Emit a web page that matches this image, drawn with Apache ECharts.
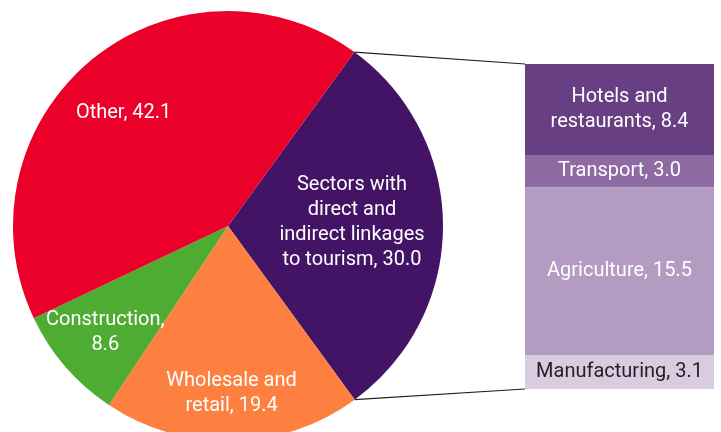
<!DOCTYPE html>
<html>
<head>
<meta charset="utf-8">
<script src="https://cdn.jsdelivr.net/npm/echarts@6/dist/echarts.min.js"></script>
<style>
html,body{margin:0;padding:0;background:#fff;}
#chart{width:721px;height:432px;}
</style>
</head>
<body>
<div id="chart"></div>
<script>
// ---- Data ----
var pieNames = ['Sectors with\ndirect and\nindirect linkages\nto tourism', 'Wholesale and\nretail', 'Construction', 'Other'];
var pieSeps = [', ', ', ', ',\n', ', '];
var pieValues = [30.0, 19.4, 8.6, 42.1];
var barNames = ['Hotels and\nrestaurants', 'Transport', 'Agriculture', 'Manufacturing'];
var barValues = [8.4, 3.0, 15.5, 3.1];

// ---- Style ----
var pieColors = ['#431366', '#FE8041', '#4EAC32', '#EA0029'];
var barColors = ['#693F84', '#8F6BA4', '#B39BC1', '#DACCE0'];
var barTextColors = ['#ffffff', '#ffffff', '#ffffff', '#231F20'];
var labelRadiusFrac = [0.577, 0.78, 0.755, 0.716];
var labelAngleShift = [-1.5, 0, 0, -3];
var FONT = 'Roboto, "Liberation Sans", Arial, sans-serif';
var FS = 20, LH = 25;
var CX = 228, CY = 226, R = 215, START = 54;

var total = pieValues.reduce(function(a, b){ return a + b; }, 0);
function midAngle(i) { // clockwise from 12 o'clock, degrees
  var before = 0;
  for (var k = 0; k < i; k++) before += pieValues[k];
  return (90 - START) + (before + pieValues[i] / 2) / total * 360;
}

var chart = echarts.init(document.getElementById('chart'), null, {renderer: 'canvas'});
var barSum = barValues.reduce(function(a, b){ return a + b; }, 0);

var option = {
  animation: false,
  backgroundColor: '#ffffff',
  textStyle: {fontFamily: FONT},
  grid: {left: 525, top: 64, width: 189, height: 325},
  xAxis: {type: 'category', data: ['tourism'], show: false},
  yAxis: {type: 'value', min: 0, max: barSum, inverse: true, show: false},
  series: [
    {
      type: 'pie',
      center: [CX, CY],
      radius: R,
      startAngle: START,
      clockwise: true,
      silent: true,
      itemStyle: {borderWidth: 0},
      label: {show: false},
      labelLine: {show: false},
      data: pieValues.map(function(v, i) {
        return {name: pieNames[i], value: v, itemStyle: {color: pieColors[i]}};
      })
    }
  ].concat(barValues.map(function(v, i) {
    return {
      type: 'bar',
      name: barNames[i],
      stack: 'total',
      barWidth: '100%',
      silent: true,
      itemStyle: {color: barColors[i]},
      label: {
        show: true,
        position: 'inside',
        fontFamily: FONT,
        fontSize: FS,
        lineHeight: LH,
        color: barTextColors[i],
        formatter: function(p) { return barNames[i] + ', ' + p.value.toFixed(1); }
      },
      data: [v]
    };
  }))
};
chart.setOption(option);

// pie labels placed along each slice's mid-angle
var graphics = pieValues.map(function(v, i) {
  var a = (midAngle(i) + labelAngleShift[i]) * Math.PI / 180;
  var rr = labelRadiusFrac[i] * R;
  return {
    type: 'text', z: 50,
    x: CX + rr * Math.sin(a), y: CY - rr * Math.cos(a),
    style: {
      text: pieNames[i] + pieSeps[i] + v.toFixed(1),
      fill: '#ffffff', font: FS + 'px ' + FONT, lineHeight: LH,
      align: 'center', verticalAlign: 'middle'
    }
  };
});

// connector lines from the edges of the first slice to the bar corners
var a0 = (90 - START) * Math.PI / 180;
var a1 = ((90 - START) + pieValues[0] / total * 360) * Math.PI / 180;
var topPt = chart.convertToPixel({gridIndex: 0}, [0, 0]);
var botPt = chart.convertToPixel({gridIndex: 0}, [0, barSum]);
var barLeft = 525;
graphics.push(
  {type: 'line', z: 100, shape: {x1: CX + R * Math.sin(a0), y1: CY - R * Math.cos(a0), x2: barLeft, y2: topPt[1]}, style: {stroke: '#231F20', lineWidth: 1.2}},
  {type: 'line', z: 100, shape: {x1: CX + R * Math.sin(a1), y1: CY - R * Math.cos(a1), x2: barLeft, y2: botPt[1]}, style: {stroke: '#231F20', lineWidth: 1.2}}
);
chart.setOption({graphic: graphics});
</script>
</body>
</html>
